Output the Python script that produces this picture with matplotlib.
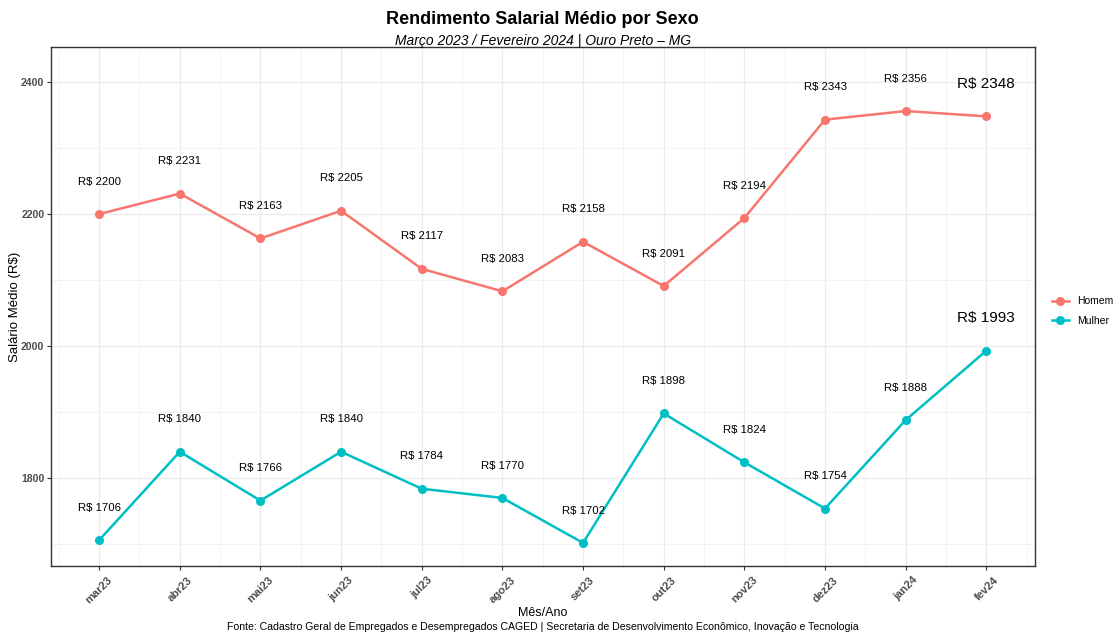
import numpy as np
import matplotlib.pyplot as plt

plt.rcParams['font.family'] = ['Liberation Sans', 'DejaVu Sans']

# dados
meses = ["mar23", "abr23", "mai23", "jun23", "jul23", "ago23",
         "set23", "out23", "nov23", "dez23", "jan24", "fev24"]
homem = [2200, 2231, 2163, 2205, 2117, 2083, 2158, 2091, 2194, 2343, 2356, 2348]
mulher = [1706, 1840, 1766, 1840, 1784, 1770, 1702, 1898, 1824, 1754, 1888, 1993]

cor_homem = "#F8766D"
cor_mulher = "#00BFC4"

fig = plt.figure(figsize=(11.15, 6.35), dpi=100)
esq, larg = 0.0455, 0.8825
ax = fig.add_axes([esq, 0.1087, larg, 0.8173])

x = np.arange(1, len(meses) + 1)

# grade estilo theme_bw
for v in np.arange(0.5, len(meses) + 1, 1.0):
    ax.axvline(v, color="#EFEFEF", lw=0.5, zorder=0)
for v in [1700, 1900, 2100, 2300]:
    ax.axhline(v, color="#EFEFEF", lw=0.5, zorder=0)
ax.grid(True, color="#EBEBEB", lw=0.9, zorder=0)
ax.set_axisbelow(True)

ax.plot(x, homem, color=cor_homem, lw=1.8, marker="o", ms=5.5, label="Homem", zorder=3)
ax.plot(x, mulher, color=cor_mulher, lw=1.8, marker="o", ms=5.5, label="Mulher", zorder=3)

# rótulos
desloc = 49
for i, (h, m) in enumerate(zip(homem, mulher)):
    tam = 11 if i == len(meses) - 1 else 8.2
    ax.text(x[i], h + desloc, f"R$ {h}", ha="center", va="center", fontsize=tam, color="black")
    ax.text(x[i], m + desloc, f"R$ {m}", ha="center", va="center", fontsize=tam, color="black")

ax.set_xlim(0.4, len(meses) + 0.6)
ax.set_ylim(1667, 2453)
ax.set_xticks(x)
ax.set_xticklabels(meses, rotation=45, ha="center", va="top")
ax.set_yticks([1800, 2000, 2200, 2400])
ax.tick_params(axis="both", length=3, width=0.8, color="#333333", labelsize=8, labelcolor="#4D4D4D")
ax.tick_params(axis="y", labelsize=7.6, pad=1.5)
for lab in ax.get_xticklabels() + ax.get_yticklabels():
    lab.set_fontweight("bold")

for s in ax.spines.values():
    s.set_color("#333333")
    s.set_linewidth(1.0)

ax.set_xlabel("Mês/Ano", fontsize=9, labelpad=1)
ax.set_ylabel("Salário Médio (R$)", fontsize=9.5, va="center")
ax.yaxis.set_label_coords(-0.036, 0.5)

centro = esq + larg / 2
fig.text(centro, 0.969, "Rendimento Salarial Médio por Sexo", ha="center", va="center",
         fontsize=13, fontweight="bold")
fig.text(centro, 0.935, "Março 2023 / Fevereiro 2024 | Ouro Preto – MG", ha="center", va="center",
         fontsize=10, style="italic")
fig.text(centro, 0.013, "Fonte: Cadastro Geral de Empregados e Desempregados CAGED | Secretaria de Desenvolvimento Econômico, Inovação e Tecnologia",
         ha="center", va="center", fontsize=7.6)

leg = fig.legend(loc="center left", bbox_to_anchor=(0.935, 0.51), frameon=False, fontsize=7.5,
                 handlelength=1.6, labelspacing=0.9)

fig.savefig("out.png", dpi=100)
